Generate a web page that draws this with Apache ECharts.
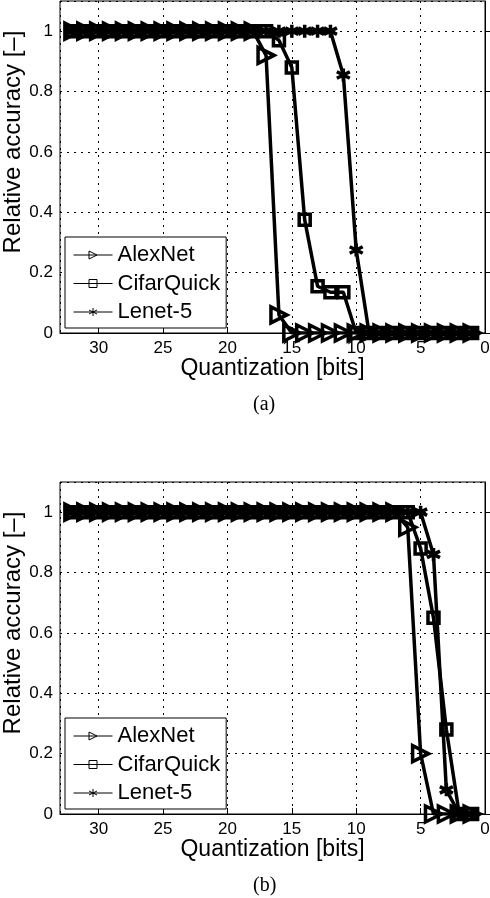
<!DOCTYPE html>
<html>
<head>
<meta charset="utf-8">
<script src="https://cdn.jsdelivr.net/npm/echarts@6/dist/echarts.min.js"></script>
<style>
  html, body { margin: 0; padding: 0; background: #fff; }
  #chart { width: 490px; height: 898px; }
</style>
</head>
<body>
<div id="chart"></div>
<script>
// quantization levels (bits), shared by every series
const bits = [32, 31, 30, 29, 28, 27, 26, 25, 24, 23, 22, 21, 20, 19, 18, 17,
  16, 15, 14, 13, 12, 11, 10, 9, 8, 7, 6, 5, 4, 3, 2, 1];

// (a)
const alexA = [1, 1, 1, 1, 1, 1, 1, 1, 1, 1, 1, 1, 1, 1, 1, 0.92,
  0.06, 0, 0, 0, 0, 0, 0, 0, 0, 0, 0, 0, 0, 0, 0, 0];
const cifarA = [1, 1, 1, 1, 1, 1, 1, 1, 1, 1, 1, 1, 1, 1, 1, 1,
  0.97, 0.88, 0.375, 0.155, 0.135, 0.135, 0, 0, 0, 0, 0, 0, 0, 0, 0, 0];
const lenetA = [1, 1, 1, 1, 1, 1, 1, 1, 1, 1, 1, 1, 1, 1, 1, 1,
  1, 1, 1, 1, 1, 0.855, 0.275, 0, 0, 0, 0, 0, 0, 0, 0, 0];

// (b)
const alexB = [1, 1, 1, 1, 1, 1, 1, 1, 1, 1, 1, 1, 1, 1, 1, 1,
  1, 1, 1, 1, 1, 1, 1, 1, 1, 1, 0.95, 0.2, 0, 0, 0, 0];
const cifarB = [1, 1, 1, 1, 1, 1, 1, 1, 1, 1, 1, 1, 1, 1, 1, 1,
  1, 1, 1, 1, 1, 1, 1, 1, 1, 1, 1, 0.88, 0.65, 0.28, 0, 0];
const lenetB = [1, 1, 1, 1, 1, 1, 1, 1, 1, 1, 1, 1, 1, 1, 1, 1,
  1, 1, 1, 1, 1, 1, 1, 1, 1, 1, 1, 1, 0.86, 0.08, 0, 0];

const names = ['AlexNet', 'CifarQuick', 'Lenet-5'];
const captions = ['(a)', '(b)'];

const sans = '"Liberation Sans", Arial, Helvetica, sans-serif';
const serif = '"Liberation Serif", "Times New Roman", serif';
const STAR = 'path://M0,-10L0,10M-8.66,-5L8.66,5M-8.66,5L8.66,-5';

const markers = {
  AlexNet: { symbol: 'triangle', size: 16, rotate: -90 },
  CifarQuick: { symbol: 'rect', size: 11, rotate: 0 },
  'Lenet-5': { symbol: STAR, size: 13, rotate: 0 },
};

const gridTops = [1, 482];
const plotHeight = 332;

const makeSeries = (name, values, idx) => ({
  name,
  type: 'line',
  xAxisIndex: idx,
  yAxisIndex: idx,
  data: bits.map((b, i) => [b, values[i]]),
  symbol: markers[name].symbol,
  symbolSize: markers[name].size,
  symbolRotate: markers[name].rotate,
  showAllSymbol: true,
  lineStyle: { color: '#000', width: 3.5 },
  itemStyle: { color: 'transparent', borderColor: '#000', borderWidth: 3.5 },
  emphasis: { disabled: true },
  silent: true,
});

const makeXAxis = (idx) => ({
  type: 'value',
  gridIndex: idx,
  min: 0,
  max: 33,
  interval: 5,
  inverse: true,
  name: 'Quantization [bits]',
  nameLocation: 'middle',
  nameGap: 24,
  nameMoveOverlap: false,
  nameTextStyle: { fontFamily: sans, fontSize: 23, color: '#000' },
  axisLine: { lineStyle: { color: '#000', width: 1 } },
  axisTick: { inside: true, length: 6, lineStyle: { color: '#000' } },
  axisLabel: { showMaxLabel: false, fontFamily: sans, fontSize: 17, color: '#000', margin: 7 },
  splitLine: { show: true, lineStyle: { color: '#000', width: 1, type: [2, 5] } },
});

const makeYAxis = (idx) => ({
  type: 'value',
  gridIndex: idx,
  min: 0,
  max: 1.1,
  interval: 0.2,
  name: 'Relative accuracy [\u2013]',
  nameLocation: 'middle',
  nameGap: 35,
  nameMoveOverlap: false,
  nameTextStyle: { fontFamily: sans, fontSize: 24, color: '#000', padding: [0, 0, 0, 50] },
  axisLine: { lineStyle: { color: '#000', width: 1 } },
  axisTick: { inside: true, length: 6, lineStyle: { color: '#000' } },
  axisLabel: { showMaxLabel: false, fontFamily: sans, fontSize: 17, color: '#000', margin: 7 },
  splitLine: { show: true, lineStyle: { color: '#000', width: 1, type: [2, 5] } },
});

const makeLegend = (idx) => ({
  left: 65,
  top: gridTops[idx] + 236,
  orient: 'vertical',
  data: names,
  selectedMode: false,
  itemWidth: 39,
  itemHeight: 10,
  itemGap: 6.5,
  padding: [7, 6, 5, 8],
  borderColor: '#000',
  borderWidth: 1,
  borderRadius: 0,
  backgroundColor: '#fff',
  textStyle: { fontFamily: sans, fontSize: 22, color: '#000' },
  lineStyle: { color: '#000', width: 1 },
  itemStyle: { color: 'transparent', borderColor: '#000', borderWidth: 1 },
});

const chart = echarts.init(document.getElementById('chart'), null, { renderer: 'canvas' });

chart.setOption({
  animation: false,
  backgroundColor: '#fff',
  title: captions.map((text, idx) => ({
    text,
    left: 253,
    top: gridTops[idx] + 394,
    padding: 0,
    textStyle: { fontFamily: serif, fontSize: 20, fontWeight: 'normal', color: '#000' },
  })),
  legend: [makeLegend(0), makeLegend(1)],
  grid: gridTops.map((top) => ({
    left: 60,
    right: 5,
    top,
    height: plotHeight,
    containLabel: false,
    outerBoundsMode: 'none',
    show: true,
    borderColor: '#000',
    borderWidth: 1,
    backgroundColor: 'transparent',
  })),
  xAxis: [makeXAxis(0), makeXAxis(1)],
  yAxis: [makeYAxis(0), makeYAxis(1)],
  series: [
    makeSeries('AlexNet', alexA, 0),
    makeSeries('CifarQuick', cifarA, 0),
    makeSeries('Lenet-5', lenetA, 0),
    makeSeries('AlexNet', alexB, 1),
    makeSeries('CifarQuick', cifarB, 1),
    makeSeries('Lenet-5', lenetB, 1),
  ],
});
</script>
</body>
</html>
